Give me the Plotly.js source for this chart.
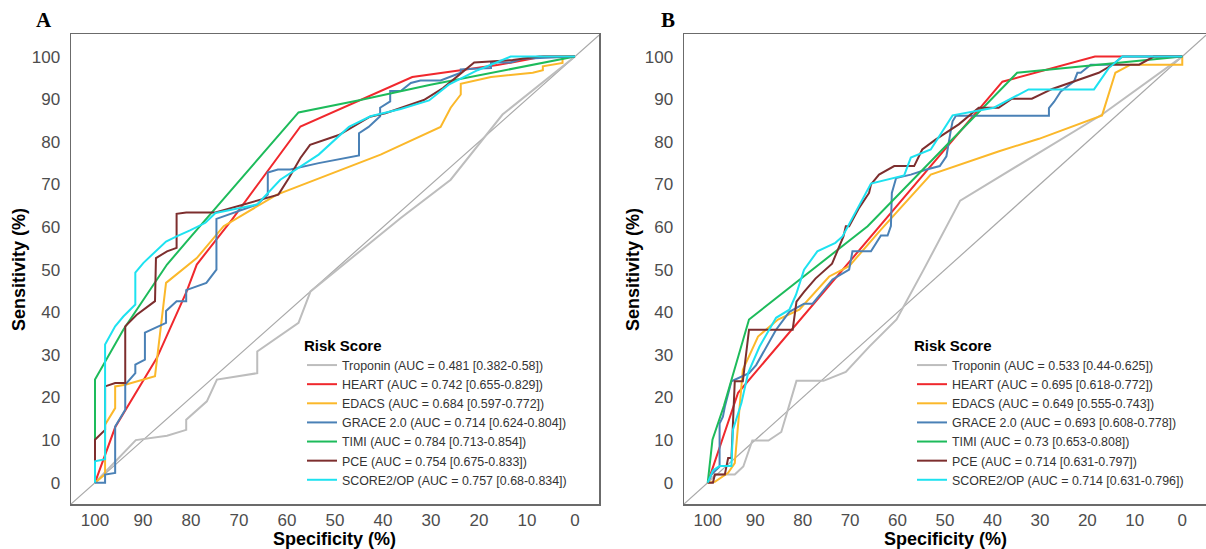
<!DOCTYPE html>
<html>
<head>
<meta charset="utf-8">
<script src="https://cdn.plot.ly/plotly-3.0.1.min.js"></script>
<style>html,body{margin:0;padding:0;background:#fff;}#chart{width:1206px;height:549px;}</style>
</head>
<body>
<div id="chart"></div>
<script>
// ---------- Reference diagonal (chance line) ----------
const refLineSpec = [105, -5];
const refLineSens = [-5, 105];

// ---------- Tick labels ----------
const tickValues = [0, 10, 20, 30, 40, 50, 60, 70, 80, 90, 100];

// ---------- Series names / colours ----------
const scoreNames = ["Troponin", "HEART", "EDACS", "GRACE 2.0", "TIMI", "PCE", "SCORE2/OP"];
const scoreColors = ["#bdbdbd", "#f0282d", "#fbb82a", "#4a81b6", "#1dbb5b", "#7d2e2e", "#1de2f0"];
const aucLabelsA = [
  "Troponin (AUC = 0.481 [0.382-0.58])",
  "HEART (AUC = 0.742 [0.655-0.829])",
  "EDACS (AUC = 0.684 [0.597-0.772])",
  "GRACE 2.0 (AUC = 0.714 [0.624-0.804])",
  "TIMI (AUC = 0.784 [0.713-0.854])",
  "PCE (AUC = 0.754 [0.675-0.833])",
  "SCORE2/OP (AUC = 0.757 [0.68-0.834])"
];
const aucLabelsB = [
  "Troponin (AUC = 0.533 [0.44-0.625])",
  "HEART (AUC = 0.695 [0.618-0.772])",
  "EDACS (AUC = 0.649 [0.555-0.743])",
  "GRACE 2.0 (AUC = 0.693 [0.608-0.778])",
  "TIMI (AUC = 0.73 [0.653-0.808])",
  "PCE (AUC = 0.714 [0.631-0.797])",
  "SCORE2/OP (AUC = 0.714 [0.631-0.796])"
];
const xTitle = "Specificity (%)";
const yTitle = "Sensitivity (%)";
const panelLabels = ["A", "B"];
const legendTitle = "Risk Score";

// ---------- Panel A curves (specificity %, sensitivity %) ----------
const tropA_spec = [100, 91.5, 85, 81, 81, 76.7, 74.6, 66.2, 66.2, 57.6, 55.1, 36.3, 25.9, 15.1, 0];
const tropA_sens = [0, 10, 11, 12.4, 14.8, 19.1, 24.2, 25.7, 30.8, 37.5, 44.9, 62.1, 71.1, 86.4, 100];

const heartA_spec = [100, 95.8, 87.1, 80.9, 78.8, 71.5, 57.2, 33.9, 23.1, 16.2, 6.6, 0];
const heartA_sens = [0, 13, 29.3, 44.9, 51.2, 61.7, 83.6, 95.2, 96.9, 98, 100, 100];

const edacsA_spec = [100, 97.9, 97.9, 95.8, 95.8, 93.7, 87.5, 85.2, 78.8, 73.2, 62.1, 40.5, 28, 25.9, 23.8, 23.8, 17.5, 8.8, 6.7, 6.7, 2.6, 2.6, 0];
const edacsA_sens = [0, 2, 13.6, 17.5, 22.6, 23, 25, 46.9, 52.7, 60.2, 67.6, 77, 83.5, 88, 91.1, 93.6, 95.2, 96.2, 96.8, 97.7, 98.5, 100, 100];

const graceA_spec = [100, 97.9, 97.9, 95.8, 95.8, 93.7, 93.7, 91.6, 91.6, 89.6, 89.6, 85.2, 85.2, 83, 81, 81, 76.8, 74.7, 74.7, 71.1, 66.2, 64, 64, 61.9, 59.3, 53.4, 45, 45, 43, 40.6, 40.6, 38.5, 38.5, 36.3, 34.2, 32.2, 28, 23.8, 23.8, 17.5, 17.5, 13.4, 11, 0];
const graceA_sens = [0, 0, 1.9, 2.3, 13.2, 17.1, 23, 25.7, 27.7, 28.9, 35.2, 37.5, 40.3, 42.6, 42.6, 45.2, 46.9, 50, 61.9, 63.3, 65.3, 67.6, 72.8, 73.5, 73.5, 75, 76.8, 82, 83.5, 86, 88, 89.5, 91.9, 91.9, 93.8, 94.4, 94.4, 96.2, 97, 97.3, 98.6, 98.6, 99.5, 100];

const timiA_spec = [100, 100, 94.1, 85, 80.2, 57.6, 44.7, 30.1, 0];
const timiA_sens = [0, 24.2, 35.9, 51.2, 57.5, 86.9, 89.8, 93.4, 100];

const pceA_spec = [100, 100, 97.9, 97.9, 95.8, 93.7, 93.7, 91.3, 87.5, 87.3, 85, 83, 83, 81, 74.9, 69.2, 61.8, 59.6, 57.2, 55.2, 49.2, 42.7, 39.5, 31.5, 27.5, 21, 13, 7.4, 0];
const pceA_sens = [0, 10.1, 12.4, 22.6, 23.4, 23.4, 36.7, 39.4, 42.6, 52.7, 54.3, 55.1, 63.1, 63.4, 63.4, 65.2, 67.6, 71.5, 76.2, 79.3, 81.6, 85.9, 86.7, 89.8, 92.6, 98.6, 99.2, 100, 100];

const scoreA_spec = [100, 100, 97.9, 97.9, 95.8, 94.1, 91.6, 91.6, 89.9, 85.2, 83, 80.2, 77, 74.9, 66.2, 61.4, 53.4, 47.1, 42.6, 36.3, 30.4, 26.3, 20.3, 13.4, 0];
const scoreA_sens = [0, 5, 5.5, 32.4, 36.7, 39, 41.8, 49.3, 51.6, 56.6, 57.8, 59.2, 61, 63.3, 65.3, 71.1, 77, 83.5, 86, 87.7, 89.7, 93.4, 96.8, 100, 100];

// ---------- Panel B curves ----------
const tropB_spec = [100, 98.4, 94.3, 92.5, 90.6, 87.2, 84.5, 81.3, 75.6, 70.9, 65.9, 60.2, 54.5, 46.8, 16.9, 0];
const tropB_sens = [0, 1.9, 1.9, 3.8, 9.9, 9.9, 11.9, 23.9, 23.9, 26, 32, 38.3, 50, 66.2, 86.4, 100];

const heartB_spec = [100, 93.6, 37.9, 18.4, 0];
const heartB_sens = [0, 21.1, 94.1, 100, 100];

const edacsB_spec = [100, 98.5, 95.7, 94.3, 92.6, 89.4, 85.2, 80.7, 74.4, 70.2, 63.5, 53, 38.6, 30.2, 16.9, 14.1, 10.9, 0, 0];
const edacsB_sens = [0, 0.2, 2.3, 4.6, 26.5, 34.3, 38.3, 40.6, 48.4, 50.8, 59.4, 72.3, 77.8, 80.7, 86.2, 96.2, 98.1, 98.1, 100];

const graceB_spec = [100, 99.2, 97.5, 97.5, 96.8, 96.4, 95, 91.3, 89.8, 85.6, 82.8, 79.7, 77.9, 73.7, 70.2, 69.5, 65.6, 63.5, 62.1, 61.4, 61.2, 60.3, 57.2, 53.9, 51.1, 49.7, 48.8, 48.4, 47.7, 28.1, 28.1, 27, 25.6, 22.8, 22.1, 21.4, 19.3, 14.7, 12.6, 0];
const graceB_sens = [0, 1.9, 3.8, 13.9, 15.5, 17.8, 23.8, 25.7, 27.6, 35.9, 40.1, 42, 42, 47.7, 50, 54.3, 54.3, 58, 58, 60.2, 68, 71.5, 72.3, 73.5, 74.3, 76.6, 82.5, 84.8, 86.1, 86.1, 87.9, 89.4, 91.8, 94.2, 96.2, 96.2, 98.1, 98.1, 100, 100];

const timiB_spec = [100, 99, 96.6, 91.3, 66.3, 34.8, 0];
const timiB_sens = [0, 10.1, 18, 38.3, 60.2, 96.2, 100];

const pceB_spec = [100, 98.9, 98.5, 96.4, 95.7, 95, 94.3, 92.6, 91.3, 82.1, 81.3, 79.7, 77.3, 73.8, 71.4, 70.9, 70.2, 68.1, 66, 65.6, 63.9, 60.7, 56.5, 54.8, 52, 47.1, 42.9, 38.7, 35.9, 31.7, 27.4, 21.1, 17.6, 14.7, 9.1, 6, 0];
const pceB_sens = [0, 0, 1.9, 1.9, 5.8, 5.8, 23.8, 23.8, 35.9, 35.9, 42.5, 44.8, 47.9, 51.4, 57.8, 60.2, 60.2, 64.5, 68, 70, 72.3, 74.3, 74.3, 78.2, 80.5, 84.1, 88, 88, 90.1, 90.1, 92.4, 94.8, 96.2, 98.1, 98.1, 100, 100];

const scoreB_spec = [100, 98.9, 97.5, 95, 94.7, 92.9, 91.5, 89.1, 85.6, 82.8, 81.4, 79.7, 76.9, 73.1, 71.6, 65.6, 58.6, 57.2, 53, 48.4, 39.7, 32.4, 18.6, 15.5, 12.6, 0];
const scoreB_sens = [0, 2.9, 3.9, 3.9, 12.4, 18.7, 25.7, 31.9, 38.7, 40.6, 44.1, 50, 54.3, 56.3, 57.8, 70.2, 72.1, 76.3, 78.2, 86.2, 88, 92.3, 92.3, 97.3, 100, 100];

// ---------- Build traces ----------
const panelA = [[tropA_spec, tropA_sens], [heartA_spec, heartA_sens], [edacsA_spec, edacsA_sens], [graceA_spec, graceA_sens], [timiA_spec, timiA_sens], [pceA_spec, pceA_sens], [scoreA_spec, scoreA_sens]];
const panelB = [[tropB_spec, tropB_sens], [heartB_spec, heartB_sens], [edacsB_spec, edacsB_sens], [graceB_spec, graceB_sens], [timiB_spec, timiB_sens], [pceB_spec, pceB_sens], [scoreB_spec, scoreB_sens]];

const traces = [];
traces.push({x: refLineSpec, y: refLineSens, xaxis: 'x', yaxis: 'y', mode: 'lines', line: {color: '#a8a8a8', width: 1.2}, showlegend: false, hoverinfo: 'skip'});
traces.push({x: refLineSpec, y: refLineSens, xaxis: 'x2', yaxis: 'y2', mode: 'lines', line: {color: '#a8a8a8', width: 1.2}, showlegend: false, hoverinfo: 'skip'});
panelA.forEach((d, i) => traces.push({x: d[0], y: d[1], xaxis: 'x', yaxis: 'y', mode: 'lines', name: aucLabelsA[i], legend: 'legend', line: {color: scoreColors[i], width: 2}}));
panelB.forEach((d, i) => traces.push({x: d[0], y: d[1], xaxis: 'x2', yaxis: 'y2', mode: 'lines', name: aucLabelsB[i], legend: 'legend2', line: {color: scoreColors[i], width: 2}}));

const tickFont = {family: 'Liberation Sans, Arial, sans-serif', size: 17, color: '#4d4d4d'};
const titleFont = {family: 'Liberation Sans, Arial, sans-serif', size: 18, color: '#000'};
function xax(domain, anchor) {
  return {domain: domain, anchor: anchor, range: [105, -5], tickvals: tickValues, ticktext: tickValues.map(String),
    showgrid: false, zeroline: false, showline: true, mirror: true, linecolor: '#6b6b6b', linewidth: 1.5,
    ticks: '', tickfont: tickFont, ticklabelstandoff: 0};
}
function yax(domain, anchor) {
  return {domain: domain, anchor: anchor, range: [-5, 105.3], tickvals: tickValues, ticktext: tickValues.map(String),
    showgrid: false, zeroline: false, showline: true, mirror: true, linecolor: '#6b6b6b', linewidth: 1.5,
    ticks: '', tickfont: tickFont, ticklabelstandoff: 6};
}
const legFont = {family: 'Liberation Sans, Arial, sans-serif', size: 12.4, color: '#333'};
const legTitleFont = {family: 'Liberation Sans, Arial, sans-serif', size: 15, color: '#000'};
const xA = [71/1206, 599/1206], xB = [684/1206, 1];
const yDom = [1 - 504/549, 1 - 34/549];
const layout = {
  width: 1206, height: 549,
  margin: {l: 0, r: 0, t: 0, b: 0},
  paper_bgcolor: '#fff', plot_bgcolor: '#fff',
  showlegend: true,
  xaxis: xax(xA, 'y'),
  yaxis: yax(yDom, 'x'),
  xaxis2: xax(xB, 'y2'),
  yaxis2: yax(yDom, 'x2'),
  legend: {x: 302/1206, xanchor: 'left', y: 1 - 331/549, yanchor: 'top', bgcolor: 'rgba(0,0,0,0)',
    font: legFont, title: {text: '<b>' + legendTitle + '</b>', font: legTitleFont}, tracegroupgap: 0},
  legend2: {x: 912/1206, xanchor: 'left', y: 1 - 331/549, yanchor: 'top', bgcolor: 'rgba(0,0,0,0)',
    font: legFont, title: {text: '<b>' + legendTitle + '</b>', font: legTitleFont}, tracegroupgap: 0},
  annotations: [
    {text: '<b>' + panelLabels[0] + '</b>', xref: 'paper', yref: 'paper', x: 44/1206, y: 1 - 20/549, xanchor: 'center', yanchor: 'middle', showarrow: false,
     font: {family: 'Liberation Serif, Times New Roman, serif', size: 21, color: '#000'}},
    {text: '<b>' + panelLabels[1] + '</b>', xref: 'paper', yref: 'paper', x: 668/1206, y: 1 - 20/549, xanchor: 'center', yanchor: 'middle', showarrow: false,
     font: {family: 'Liberation Serif, Times New Roman, serif', size: 21, color: '#000'}},
    {text: '<b>' + xTitle + '</b>', xref: 'paper', yref: 'paper', x: 334/1206, y: 1 - 539/549, xanchor: 'center', yanchor: 'middle', showarrow: false, font: titleFont},
    {text: '<b>' + xTitle + '</b>', xref: 'paper', yref: 'paper', x: 945/1206, y: 1 - 539/549, xanchor: 'center', yanchor: 'middle', showarrow: false, font: titleFont},
    {text: '<b>' + yTitle + '</b>', xref: 'paper', yref: 'paper', x: 19/1206, y: 1 - 270/549, xanchor: 'center', yanchor: 'middle', textangle: -90, showarrow: false, font: titleFont},
    {text: '<b>' + yTitle + '</b>', xref: 'paper', yref: 'paper', x: 633/1206, y: 1 - 270/549, xanchor: 'center', yanchor: 'middle', textangle: -90, showarrow: false, font: titleFont}
  ]
};
Plotly.newPlot('chart', traces, layout, {staticPlot: true, displayModeBar: false});
</script>
</body>
</html>
